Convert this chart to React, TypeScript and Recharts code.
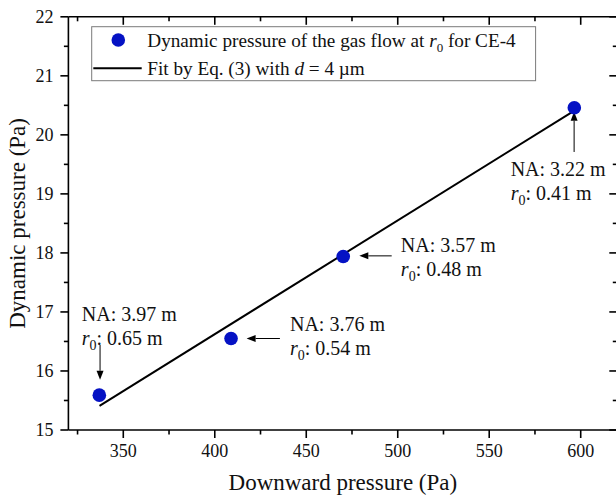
import { ReferenceDot, ReferenceLine, Scatter, ScatterChart, XAxis, YAxis } from 'recharts'

// measured points (Pa)
const downwardPressure = [336.9, 408.9, 470.2, 596.5]
const dynamicPressure = [15.59, 16.55, 17.94, 20.46]

// fitted line end points
const fitX = [337, 597]
const fitY = [15.41, 20.42]

const xTicks = [325, 350, 375, 400, 425, 450, 475, 500, 525, 550, 575, 600]
const yTicks = [15, 15.5, 16, 16.5, 17, 17.5, 18, 18.5, 19, 19.5, 20, 20.5, 21, 21.5, 22]

// annotations, in data units
const naValues = ['3.97', '3.76', '3.57', '3.22']
const r0Values = ['0.65', '0.54', '0.48', '0.41']
const labelX = [327.3, 441.1, 501.7, 561.7]
const labelY = [16.97, 16.79, 18.13, 19.42]
const arrowX1 = [337.3, 435.6, 496.7, 596.4]
const arrowY1 = [16.44, 16.55, 17.95, 19.71]
const arrowX2 = [337.3, 417.4, 479.0, 596.4]
const arrowY2 = [15.85, 16.55, 17.95, 20.39]

const FONT = "'Liberation Serif', 'Times New Roman', serif"
const BLUE = '#0512c4'
const MAJOR = 8
const MINOR = 4.5

const pointData = downwardPressure.map((x, i) => ({ x, y: dynamicPressure[i] }))
const fitData = fitX.map((x, i) => ({ x, y: fitY[i] }))

const isMajorX = (v: number) => v % 50 === 0
const isMajorY = (v: number) => Number.isInteger(v)

const tickPath = (d: string) => <path d={d} stroke="#000" strokeWidth={1.6} fill="none" />

const BottomTick = ({ x, y, payload }: any) => {
  const major = isMajorX(payload.value)
  return (
    <g>
      {tickPath(`M${x},${y}V${y + (major ? MAJOR : MINOR)}`)}
      {major && (
        <text x={x} y={y + 21} dy="0.35em" textAnchor="middle" fontSize={18} fontFamily={FONT} fill="#111">
          {payload.value}
        </text>
      )}
    </g>
  )
}

const TopTick = ({ x, y, payload }: any) => (
  <g>{tickPath(`M${x},${y}V${y + (isMajorX(payload.value) ? MAJOR : MINOR)}`)}</g>
)

const LeftTick = ({ x, y, payload }: any) => {
  const major = isMajorY(payload.value)
  return (
    <g>
      {tickPath(`M${x},${y}H${x - (major ? MAJOR : MINOR)}`)}
      {major && (
        <text x={x - 15} y={y} dy="0.35em" textAnchor="end" fontSize={18} fontFamily={FONT} fill="#111">
          {payload.value}
        </text>
      )}
    </g>
  )
}

const RightTick = ({ x, y, payload }: any) => (
  <g>{tickPath(`M${x},${y}H${x - (isMajorY(payload.value) ? MAJOR : MINOR)}`)}</g>
)

const Arrow = ({ x1, y1, x2, y2 }: any) => {
  const dx = x2 - x1
  const dy = y2 - y1
  const len = Math.hypot(dx, dy) || 1
  const ux = dx / len
  const uy = dy / len
  const head = 9
  const half = 3.5
  const bx = x2 - ux * head
  const by = y2 - uy * head
  return (
    <g>
      <line x1={x1} y1={y1} x2={bx} y2={by} stroke="#000" strokeWidth={1} />
      <polygon
        points={`${x2},${y2} ${bx - uy * half},${by + ux * half} ${bx + uy * half},${by - ux * half}`}
        fill="#000"
      />
    </g>
  )
}

const makeNote = (i: number) => ({ cx, cy }: any) => (
  <g fontFamily={FONT} fontSize={20} fill="#111">
    <text x={cx} y={cy} dy="0.35em">
      NA: {naValues[i]} m
    </text>
    <text x={cx} y={cy + 24} dy="0.35em">
      <tspan fontStyle="italic">r</tspan>
      <tspan fontSize={14} dy={5}>0</tspan>
      <tspan dy={-5}>: {r0Values[i]} m</tspan>
    </text>
  </g>
)

const LegendBox = () => (
  <svg width={616} height={100} style={{ position: 'absolute', left: 0, top: 0 }}>
    <rect x={91.7} y={26.7} width={443.9} height={54} fill="#fff" stroke="#7a7a7a" strokeWidth={1} />
    <circle cx={118.3} cy={40} r={6.8} fill={BLUE} />
    <text x={147.3} y={40} dy="0.35em" fontFamily={FONT} fontSize={19.2} fill="#111">
      Dynamic pressure of the gas flow at <tspan fontStyle="italic">r</tspan>
      <tspan fontSize={13} dy={5}>0</tspan>
      <tspan dy={-5}> for CE-4</tspan>
    </text>
    <line x1={93.3} y1={68.3} x2={141.7} y2={68.3} stroke="#000" strokeWidth={2} />
    <text x={147.3} y={68.3} dy="0.35em" fontFamily={FONT} fontSize={19.2} fill="#111">
      Fit by Eq. (3) with <tspan fontStyle="italic">d</tspan> = 4 µm
    </text>
  </svg>
)

const axisLine = { stroke: '#000', strokeWidth: 1.6 }

export default function App() {
  return (
    <div style={{ position: 'absolute', left: 0, top: 0, width: 616, height: 496, overflow: 'hidden', background: '#fff' }}>
      <ScatterChart width={630} height={496} margin={{ top: 16.8, right: 12.7, bottom: 0, left: 8 }}>
        <XAxis
          xAxisId="b"
          type="number"
          dataKey="x"
          domain={[320, 620]}
          allowDataOverflow
          ticks={xTicks}
          interval={0}
          height={66}
          tickSize={0}
          tickMargin={0}
          tickLine={false}
          tick={<BottomTick />}
          axisLine={axisLine}
          label={({ viewBox }: any) => (
            <text
              x={viewBox.x + viewBox.width / 2}
              y={viewBox.y + 52}
              dy="0.35em"
              textAnchor="middle"
              fontFamily={FONT}
              fontSize={23}
              fill="#111"
            >
              Downward pressure (Pa)
            </text>
          )}
        />
        <XAxis
          xAxisId="t"
          orientation="top"
          mirror
          type="number"
          dataKey="x"
          domain={[320, 620]}
          allowDataOverflow
          ticks={xTicks}
          interval={0}
          height={1}
          tickSize={0}
          tickMargin={0}
          tickLine={false}
          tick={<TopTick />}
          axisLine={axisLine}
        />
        <YAxis
          yAxisId="l"
          type="number"
          dataKey="y"
          domain={[15, 22]}
          allowDataOverflow
          ticks={yTicks}
          interval={0}
          width={60.4}
          tickSize={0}
          tickMargin={0}
          tickLine={false}
          tick={<LeftTick />}
          axisLine={axisLine}
          label={({ viewBox }: any) => {
            const cx = viewBox.x + 9
            const cy = viewBox.y + viewBox.height / 2
            return (
              <text
                x={cx}
                y={cy}
                dy="0.35em"
                textAnchor="middle"
                transform={`rotate(-90 ${cx} ${cy})`}
                fontFamily={FONT}
                fontSize={23}
                fill="#111"
              >
                Dynamic pressure (Pa)
              </text>
            )
          }}
        />
        <YAxis
          yAxisId="r"
          orientation="right"
          mirror
          type="number"
          dataKey="y"
          domain={[15, 22]}
          allowDataOverflow
          ticks={yTicks}
          interval={0}
          width={1}
          tickSize={0}
          tickMargin={0}
          tickLine={false}
          tick={<RightTick />}
          axisLine={axisLine}
        />
        {/* invisible copy so the frame axes have data */}
        <Scatter
          xAxisId="t"
          yAxisId="r"
          data={pointData}
          shape={() => <g />}
          isAnimationActive={false}
        />
        <Scatter
          xAxisId="b"
          yAxisId="l"
          data={fitData}
          line={{ stroke: '#000', strokeWidth: 2 }}
          shape={() => <g />}
          isAnimationActive={false}
        />
        <Scatter
          xAxisId="b"
          yAxisId="l"
          data={pointData}
          shape={({ cx, cy }: any) => <circle cx={cx} cy={cy} r={6.8} fill={BLUE} />}
          isAnimationActive={false}
        />
        {naValues.map((_, i) => (
          <ReferenceLine
            key={`a${i}`}
            xAxisId="b"
            yAxisId="l"
            ifOverflow="visible"
            segment={[
              { x: arrowX1[i], y: arrowY1[i] },
              { x: arrowX2[i], y: arrowY2[i] },
            ]}
            shape={(p: any) => <Arrow {...p} />}
          />
        ))}
        {naValues.map((_, i) => (
          <ReferenceDot
            key={`n${i}`}
            xAxisId="b"
            yAxisId="l"
            x={labelX[i]}
            y={labelY[i]}
            r={0}
            ifOverflow="visible"
            shape={makeNote(i)}
          />
        ))}
      </ScatterChart>
      <LegendBox />
    </div>
  )
}
